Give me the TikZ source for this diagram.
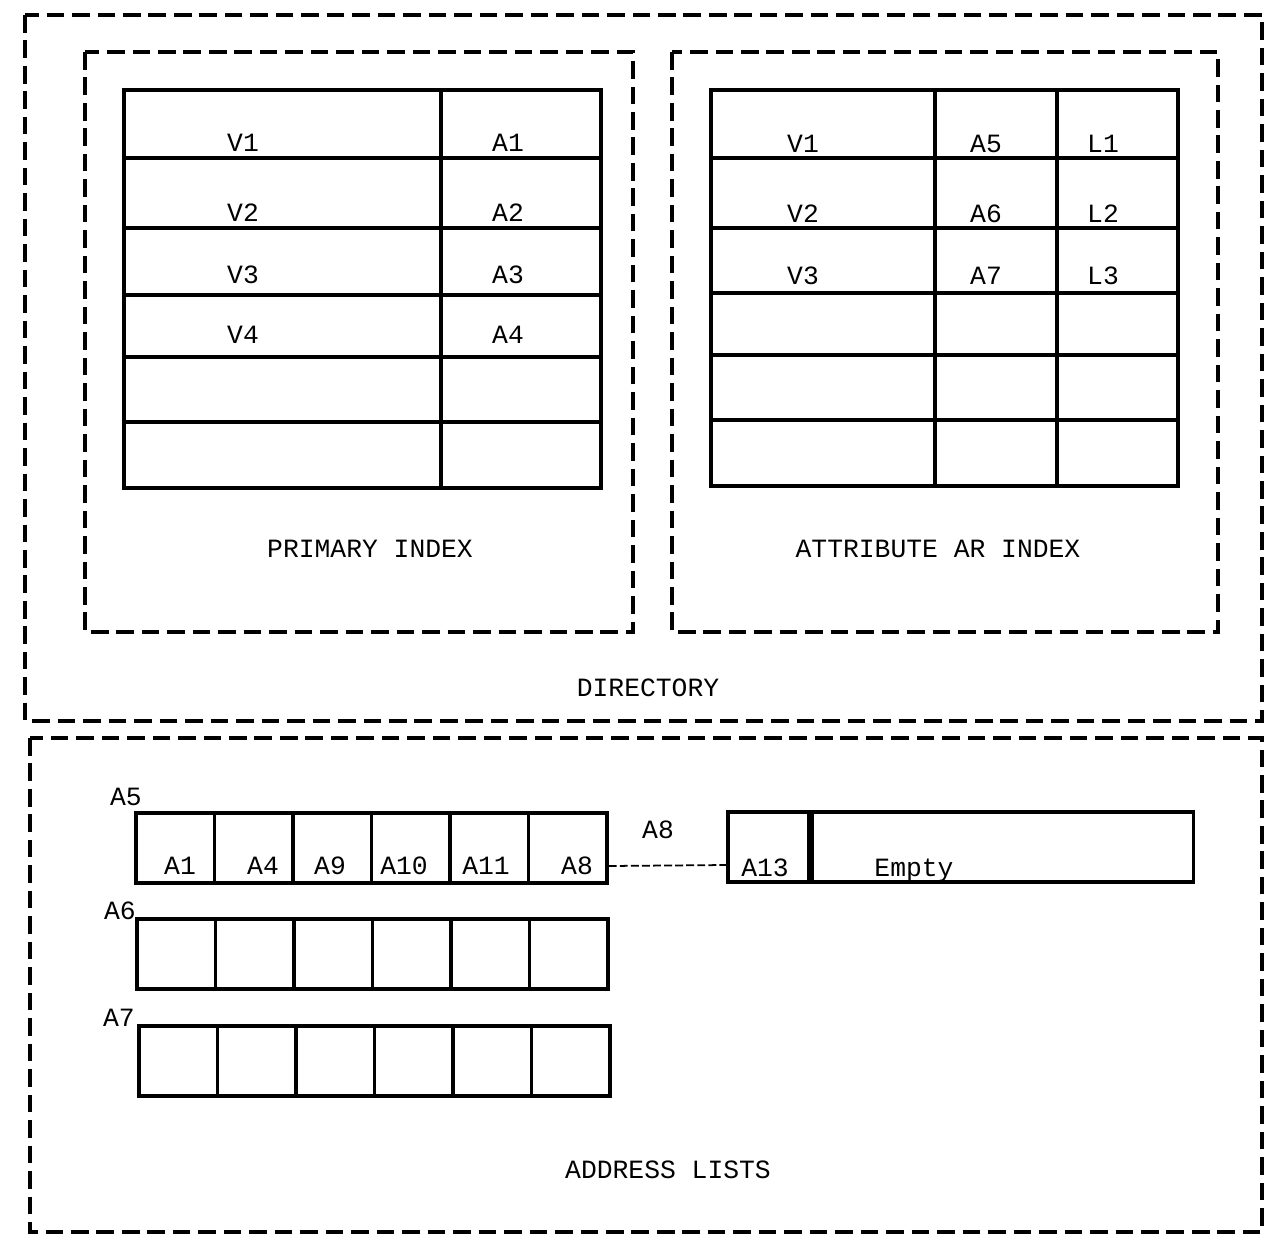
\documentclass[tikz,border=0pt]{standalone}
\usepackage{fontspec}
\setmonofont{Liberation Mono}
\usetikzlibrary{positioning,calc}
\tikzset{
  frm/.style={line width=1.8pt, dash pattern=on 10pt off 4.5pt},
  grd/.style={line width=2pt},
  cel/.style={draw, line width=2pt, minimum width=1.57cm, minimum height=1.4cm, inner sep=0pt},
  typ/.style={font=\ttfamily\fontsize{15}{18}\selectfont, inner sep=0pt, anchor=base},
  lnk/.style={line width=1pt, dash pattern=on 4.5pt off 1.8pt},
}

\begin{document}
\begin{tikzpicture}[x=0.02cm, y=-0.02cm]
  \useasboundingbox (0,0) rectangle (1270,1237);
  % directory and address list frames
  \draw[frm] (25,15) rectangle (1262,721);
  \draw[frm] (30,738) rectangle (1262,1232);
  \draw[frm] (85,52) rectangle (633,632);
  \draw[frm] (672,52) rectangle (1218,632);
  % primary index
  \draw[grd] (124,90) rectangle (601,488);
  \draw[grd] (441,90) -- (441,488);
  \foreach \y in {158,228,295,357,422} \draw[grd] (124,\y) -- (601,\y);
  \foreach \n/\y in {1/151,2/221,3/283,4/343} {
    \node[typ] (pv\n) at (243,\y) {V\n};
    \node[typ] (pa\n) at (508,\y) {A\n};
  }
  \node[typ] (pcap) at (370,557) {PRIMARY INDEX};
  % attribute index
  \draw[grd] (711,90) rectangle (1178,486);
  \foreach \x in {935,1057} \draw[grd] (\x,90) -- (\x,486);
  \foreach \y in {158,228,293,355,420} \draw[grd] (711,\y) -- (1178,\y);
  \foreach \n/\a/\y in {1/5/152,2/6/222,3/7/284} {
    \node[typ] (av\n) at (803,\y) {V\n};
    \node[typ] (aa\n) at (986,\y) {A\a};
    \node[typ] (al\n) at (1103,\y) {L\n};
  }
  \node[typ] (acap) at (938,557) {ATTRIBUTE AR INDEX};
  \node[typ] (dcap) at (648,696) {DIRECTORY};
  % address lists
  \foreach \r/\x/\y in {5/136/848,6/137/954,7/139/1061} {
    \foreach \i in {1,...,6}
      \node[cel] (r\r-\i) at ({\x+(\i-0.5)*78.5},\y) {};
  }
  \node[typ] (l5) at (126,805) {A5};
  \node[typ] (l6) at (120,919) {A6};
  \node[typ] (l7) at (119,1026) {A7};
  \foreach \t/\x in {A1/180,A4/263,A9/330,A10/404,A11/486,A8/577}
    \node[typ] (t\t) at (\x,874) {\t};
  \node[cel, minimum width=1.62cm] (a13) at (768.5,847) {};
  \node[cel, minimum width=7.62cm, anchor=west] (empty) at (a13.east) {};
  \node[typ] (ta13) at (765,876) {A13};
  \node[typ] (tempty) at (914,876) {Empty};
  \node[typ] (la8) at (658,838) {A8};
  \draw[lnk] ([yshift=-0.36cm]r5-6.east) -- ([yshift=-0.36cm]a13.west);
  \node[typ] (acap2) at (668,1178) {ADDRESS LISTS};
\end{tikzpicture}
\end{document}
